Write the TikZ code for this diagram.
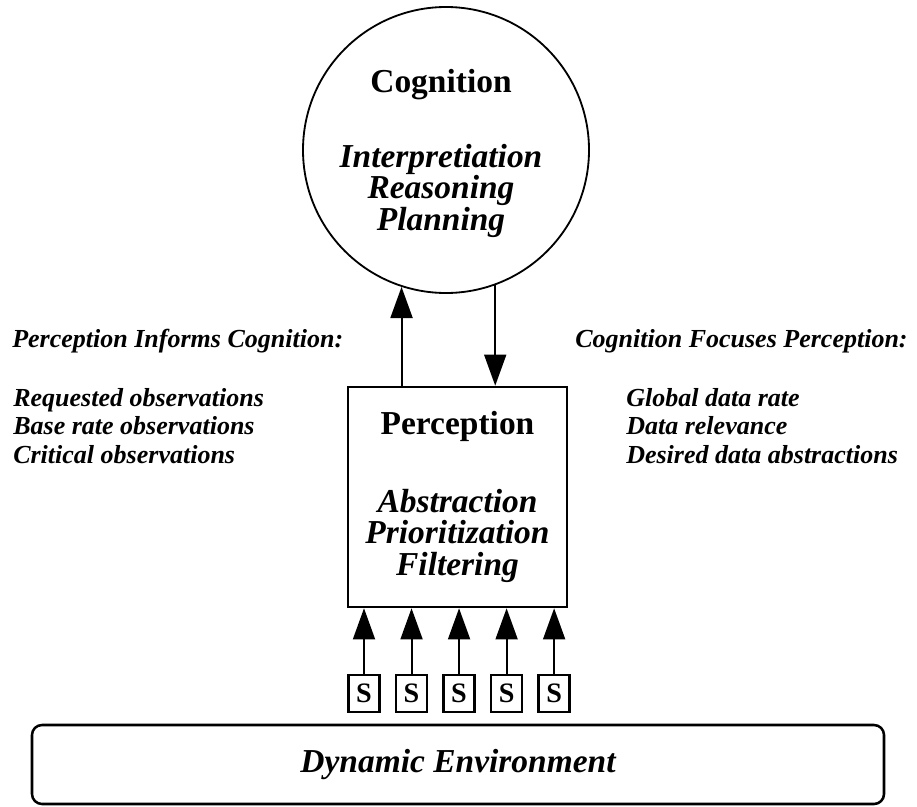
\documentclass[tikz,border=0pt]{standalone}
\usepackage{fontspec}
\setmainfont{Liberation Serif}
\usetikzlibrary{arrows.meta,positioning}

\begin{document}
\begin{tikzpicture}[>={Triangle[length=0.78cm,width=0.55cm]},
    box/.style={draw,line width=1.8pt,inner sep=0pt},
    sensor/.style={box,minimum width=0.775cm,minimum height=0.925cm,font=\fontsize{20}{20}\selectfont\bfseries},
    feed/.style={->,line width=1.4pt},
    sidetext/.style={anchor=north west,inner sep=0pt,align=left,font=\fontsize{18.5}{20.3}\selectfont\bfseries\itshape}]
      \useasboundingbox (0,0) rectangle (22.925,-20.15);

      \node[circle,draw,line width=1.3pt,minimum size=7.15cm,inner sep=0pt] (cog) at (11.15,-3.75) {};
      \node[align=center,inner sep=0pt,font=\fontsize{23.8}{22.4}\selectfont\bfseries] (cogtxt) at (11.025,-3.825)
          {Cognition\\[31pt] \itshape Interpretiation\\ \itshape Reasoning\\ \itshape Planning};

      \node[box,minimum width=5.475cm,minimum height=5.5cm,align=center,font=\fontsize{23.8}{22.4}\selectfont\bfseries] (per) at (11.4375,-12.425)
          {Perception\\[32.5pt] \itshape Abstraction\\ \itshape Prioritization\\ \itshape Filtering};

      \node[box,rounded corners=0.25cm,minimum width=21.3cm,minimum height=1.975cm,font=\fontsize{23.8}{24}\selectfont\bfseries\itshape] (env) at (11.45,-19.1125) {Dynamic Environment};

      \node[sidetext] (pihead) at (0.3,-8.225) {Perception Informs Cognition:};
      \node[sidetext] (pilist) at (0.325,-9.7) {Requested observations\\ Base rate observations\\ Critical observations};
      \node[sidetext] (cfhead) at (14.375,-8.225) {Cognition Focuses Perception:};
      \node[sidetext] (cflist) at (15.65,-9.7) {Global data rate\\ Data relevance\\ Desired data abstractions};

      \draw[feed] (per.north -| cog.252) -- (cog.252);
      \draw[feed] (cog.290) -- (cog.290 |- per.north);

      \node[sensor] (s1) at (9.1,-17.3375) {S};
      \node[sensor] (s2) [right=0.35cm of s1] {S};
      \node[sensor] (s3) [right=0.35cm of s2] {S};
      \node[sensor] (s4) [right=0.35cm of s3] {S};
      \node[sensor] (s5) [right=0.35cm of s4] {S};

      \draw[feed] (s1) -- (s1 |- per.south);
      \draw[feed] (s2) -- (s2 |- per.south);
      \draw[feed] (s3) -- (s3 |- per.south);
      \draw[feed] (s4) -- (s4 |- per.south);
      \draw[feed] (s5) -- (s5 |- per.south);
\end{tikzpicture}
\end{document}
